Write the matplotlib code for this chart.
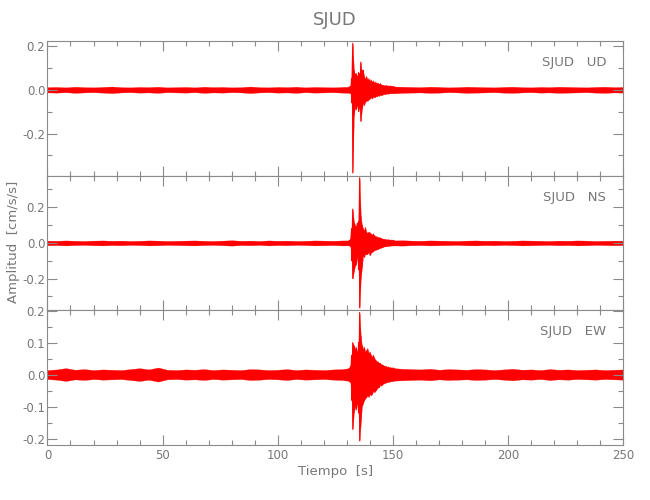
import numpy as np
import matplotlib
matplotlib.use('Agg')
from matplotlib import pyplot as plt
from matplotlib.ticker import MultipleLocator, FormatStrFormatter

station = 'SJUD'
components = ['UD', 'NS', 'EW']

# knot times (s): quiet part before the event, the event itself, quiet part after
t_pre = np.arange(0, 129, 4)
t_evt = np.arange(131, 151, 0.5)
t_post = np.arange(154, 251, 4)

# half width of the noise band (cm/s/s)
noise_pre = {
    'UD': [0.012, 0.013, 0.011, 0.014, 0.012, 0.011, 0.013, 0.015, 0.012, 0.011, 0.013,
           0.012, 0.014, 0.011, 0.012, 0.013, 0.011, 0.014, 0.012, 0.013, 0.011, 0.012,
           0.015, 0.012, 0.011, 0.013, 0.012, 0.014, 0.011, 0.013, 0.012, 0.011, 0.013],
    'NS': [0.013, 0.012, 0.014, 0.012, 0.011, 0.013, 0.014, 0.012, 0.013, 0.011, 0.012,
           0.014, 0.013, 0.011, 0.012, 0.013, 0.014, 0.012, 0.011, 0.013, 0.015, 0.012,
           0.013, 0.011, 0.014, 0.012, 0.013, 0.011, 0.012, 0.014, 0.013, 0.012, 0.014],
    'EW': [0.014, 0.016, 0.02, 0.015, 0.017, 0.014, 0.016, 0.015, 0.014, 0.017, 0.02,
           0.016, 0.022, 0.015, 0.014, 0.016, 0.015, 0.017, 0.014, 0.016, 0.015, 0.014,
           0.017, 0.016, 0.014, 0.015, 0.017, 0.014, 0.016, 0.015, 0.014, 0.016, 0.017],
}
noise_post = {
    'UD': [0.014, 0.013, 0.012, 0.014, 0.013, 0.011, 0.012, 0.014, 0.013, 0.012, 0.011, 0.013,
           0.014, 0.012, 0.011, 0.013, 0.012, 0.014, 0.013, 0.012, 0.011, 0.013, 0.014, 0.012, 0.013],
    'NS': [0.015, 0.013, 0.012, 0.014, 0.013, 0.012, 0.011, 0.013, 0.014, 0.012, 0.013, 0.011,
           0.012, 0.014, 0.013, 0.012, 0.011, 0.013, 0.012, 0.014, 0.013, 0.011, 0.012, 0.013, 0.012],
    'EW': [0.018, 0.017, 0.016, 0.018, 0.015, 0.017, 0.016, 0.015, 0.017, 0.016, 0.014, 0.016,
           0.018, 0.015, 0.016, 0.014, 0.017, 0.015, 0.016, 0.014, 0.015, 0.016, 0.014, 0.015, 0.016],
}

# envelope of the event, 131 s to 150.5 s every 0.5 s
evt_up = {
    'UD': [0.014, 0.015, 0.05, 0.213, 0.09, 0.07, 0.075, 0.06, 0.08, 0.075, 0.127, 0.07,
           0.09, 0.06, 0.05, 0.06, 0.045, 0.05, 0.04, 0.045, 0.035, 0.04, 0.03, 0.035,
           0.028, 0.03, 0.025, 0.028, 0.022, 0.02, 0.02, 0.018, 0.02, 0.018, 0.017, 0.016,
           0.018, 0.015, 0.016, 0.015],
    'NS': [0.014, 0.02, 0.08, 0.19, 0.12, 0.1, 0.09, 0.11, 0.12, 0.366, 0.15, 0.1,
           0.08, 0.07, 0.086, 0.06, 0.055, 0.06, 0.057, 0.05, 0.045, 0.05, 0.04, 0.035,
           0.035, 0.03, 0.03, 0.028, 0.025, 0.022, 0.02, 0.02, 0.018, 0.017, 0.018, 0.016,
           0.015, 0.016, 0.015, 0.014],
    'EW': [0.02, 0.025, 0.06, 0.1, 0.09, 0.08, 0.085, 0.07, 0.1, 0.194, 0.12, 0.09,
           0.08, 0.085, 0.07, 0.075, 0.08, 0.065, 0.07, 0.06, 0.055, 0.06, 0.05, 0.045,
           0.04, 0.04, 0.035, 0.035, 0.03, 0.03, 0.028, 0.025, 0.026, 0.022, 0.024, 0.021,
           0.022, 0.02, 0.021, 0.02],
}
evt_lo = {
    'UD': [-0.014, -0.015, -0.06, -0.38, -0.12, -0.08, -0.09, -0.07, -0.1, -0.08, -0.144, -0.09,
           -0.06, -0.07, -0.055, -0.05, -0.05, -0.045, -0.04, -0.035, -0.04, -0.03, -0.035, -0.03,
           -0.03, -0.025, -0.028, -0.022, -0.025, -0.022, -0.02, -0.02, -0.018, -0.017, -0.018, -0.016,
           -0.015, -0.016, -0.015, -0.016],
    'NS': [-0.014, -0.02, -0.1, -0.2, -0.16, -0.13, -0.12, -0.08, -0.15, -0.364, -0.2, -0.14,
           -0.07, -0.08, -0.06, -0.065, -0.06, -0.05, -0.069, -0.055, -0.05, -0.045, -0.04, -0.04,
           -0.035, -0.035, -0.03, -0.028, -0.026, -0.024, -0.02, -0.02, -0.018, -0.018, -0.016, -0.017,
           -0.015, -0.014, -0.015, -0.014],
    'EW': [-0.02, -0.025, -0.08, -0.171, -0.12, -0.1, -0.11, -0.09, -0.12, -0.207, -0.15, -0.1,
           -0.09, -0.08, -0.075, -0.07, -0.065, -0.07, -0.06, -0.065, -0.06, -0.05, -0.055, -0.05,
           -0.045, -0.04, -0.04, -0.03, -0.035, -0.03, -0.028, -0.026, -0.025, -0.024, -0.022, -0.023,
           -0.02, -0.021, -0.02, -0.019],
}

ylims = {'UD': (-0.393, 0.223), 'NS': (-0.378, 0.377), 'EW': (-0.22, 0.2005)}
ymajor = {'UD': 0.2, 'NS': 0.2, 'EW': 0.1}

grey = '#8a8a8a'
txt = '#777777'
fig = plt.figure(figsize=(6.5, 5), dpi=100)
left, width = 0.073, 0.886
bottom, height = 0.11, 0.2693

for i, comp in enumerate(components):
    ax = fig.add_axes([left, bottom + (2 - i) * height, width, height])
    t = np.concatenate([t_pre, t_evt, t_post])
    up = np.concatenate([noise_pre[comp], evt_up[comp], noise_post[comp]])
    lo = np.concatenate([-np.array(noise_pre[comp]), evt_lo[comp], -np.array(noise_post[comp])])
    ax.fill_between(t, lo, up, color='red', linewidth=0.2, edgecolor='red')
    # event drawn as up/down strokes so the spikes keep their jagged look
    zz_t = np.repeat(t_evt, 2)
    zz_y = np.column_stack([evt_up[comp], evt_lo[comp]]).ravel()
    ax.plot(zz_t, zz_y, color='red', linewidth=0.7)

    ax.set_xlim(0, 250)
    ax.set_ylim(*ylims[comp])
    ax.xaxis.set_major_locator(MultipleLocator(50))
    ax.xaxis.set_minor_locator(MultipleLocator(10))
    ax.yaxis.set_major_locator(MultipleLocator(ymajor[comp]))
    ax.yaxis.set_minor_locator(MultipleLocator(ymajor[comp] / 2))
    ax.yaxis.set_major_formatter(FormatStrFormatter('%.1f'))
    ax.tick_params(which='both', direction='in', top=True, right=True, colors=grey,
                   labelcolor=txt, labelsize=8.5, width=0.8)
    ax.tick_params(which='major', length=7.5)
    ax.tick_params(which='minor', length=3.8)
    ax.tick_params(axis='y', pad=1.5)
    ax.tick_params(axis='x', pad=3)
    for s in ax.spines.values():
        s.set_color(grey)
        s.set_linewidth(0.8)
    if i < 2:
        ax.tick_params(labelbottom=False)
    else:
        ax.set_xlabel('Tiempo  [s]', color=txt, fontsize=9.5, labelpad=2)
    ax.text(0.97, 0.84, station + '   ' + comp, transform=ax.transAxes, ha='right',
            va='center', color=txt, fontsize=9.5)

fig.text(14 / 650, 1 - 242 / 500, 'Amplitud  [cm/s/s]', rotation=90, ha='center',
         va='center', color=txt, fontsize=9.5)
fig.text(0.515, 0.96, station, ha='center', va='center', color=txt, fontsize=13)
fig.savefig('out.png', dpi=100)
